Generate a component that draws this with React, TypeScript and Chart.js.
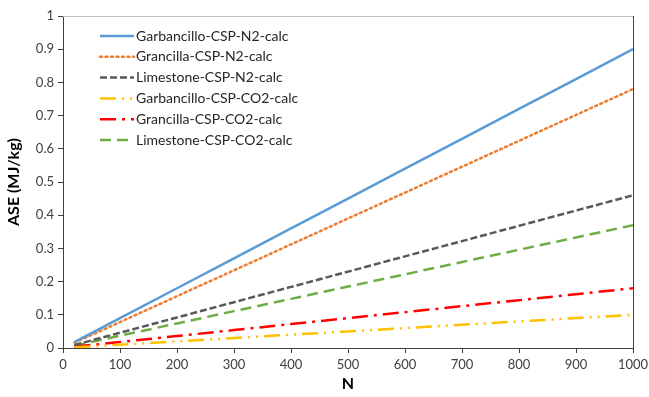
import React, { useEffect, useRef } from "react";
import { Chart, registerables } from "chart.js";
Chart.register(...registerables);

const nValues = [20, 100, 200, 300, 400, 500, 600, 700, 800, 900, 1000];
const garbancilloN2 = [0.018, 0.09, 0.18, 0.27, 0.36, 0.45, 0.54, 0.63, 0.72, 0.81, 0.9];
const grancillaN2 = [0.016, 0.078, 0.156, 0.234, 0.312, 0.39, 0.468, 0.546, 0.624, 0.702, 0.78];
const limestoneN2 = [0.009, 0.046, 0.092, 0.138, 0.184, 0.23, 0.276, 0.322, 0.368, 0.414, 0.46];
const garbancilloCO2 = [0.002, 0.01, 0.02, 0.03, 0.04, 0.05, 0.06, 0.07, 0.08, 0.09, 0.1];
const grancillaCO2 = [0.004, 0.018, 0.036, 0.054, 0.072, 0.09, 0.108, 0.126, 0.144, 0.162, 0.18];
const limestoneCO2 = [0.007, 0.037, 0.074, 0.111, 0.148, 0.185, 0.222, 0.259, 0.296, 0.333, 0.37];

const seriesNames = [
  "Garbancillo-CSP-N2-calc",
  "Grancilla-CSP-N2-calc",
  "Limestone-CSP-N2-calc",
  "Garbancillo-CSP-CO2-calc",
  "Grancilla-CSP-CO2-calc",
  "Limestone-CSP-CO2-calc",
];
const seriesValues = [garbancilloN2, grancillaN2, limestoneN2, garbancilloCO2, grancillaCO2, limestoneCO2];
const seriesColors = ["#5B9BD5", "#ED7D31", "#595959", "#FFC000", "#FF0000", "#70AD47"];
const seriesDashes = [[], [2, 3.5], [7, 3], [16, 6, 2, 6, 2, 6], [16, 6, 3, 6], [11, 6]];
const seriesCaps: CanvasLineCap[] = ["butt", "round", "butt", "butt", "butt", "butt"];

const FONT = "Lato, 'Liberation Sans', sans-serif";

const framePlugin = {
  id: "frame",
  afterDraw(chart: any) {
    const { ctx, chartArea } = chart;
    const { left, right, top, bottom } = chartArea;
    ctx.save();
    ctx.lineWidth = 1;
    ctx.strokeStyle = "#bfbfbf";
    ctx.beginPath();
    ctx.moveTo(left, top + 0.5);
    ctx.lineTo(right, top + 0.5);
    ctx.stroke();
    ctx.strokeStyle = "#404040";
    ctx.beginPath();
    ctx.moveTo(Math.round(right) + 0.5, top);
    ctx.lineTo(Math.round(right) + 0.5, bottom);
    ctx.stroke();
    // legend
    const x0 = left + 37;
    const y0 = top + 20;
    const rowH = 20.8;
    ctx.font = "14px " + FONT;
    ctx.textBaseline = "middle";
    ctx.textAlign = "left";
    seriesNames.forEach((name, i) => {
      const y = y0 + i * rowH;
      ctx.strokeStyle = seriesColors[i];
      ctx.lineWidth = 2.5;
      ctx.lineCap = seriesCaps[i];
      ctx.setLineDash(seriesDashes[i]);
      ctx.beginPath();
      ctx.moveTo(x0, y);
      ctx.lineTo(x0 + 34, y);
      ctx.stroke();
      ctx.setLineDash([]);
      ctx.fillStyle = "#262626";
      ctx.fillText(name, x0 + 36, y);
    });
    ctx.restore();
  },
};

export default function App() {
  const ref = useRef<HTMLCanvasElement | null>(null);
  useEffect(() => {
    document.body.style.margin = "0";
    const chart = new Chart(ref.current!, {
      type: "line",
      data: {
        datasets: seriesNames.map((name, i) => ({
          label: name,
          data: nValues.map((n, j) => ({ x: n, y: seriesValues[i][j] })),
          borderColor: seriesColors[i],
          backgroundColor: seriesColors[i],
          borderWidth: 2.5,
          borderDash: seriesDashes[i],
          borderCapStyle: seriesCaps[i],
          pointRadius: 0,
          tension: 0,
          fill: false,
        })),
      },
      options: {
        animation: false,
        responsive: false,
        maintainAspectRatio: false,
        layout: { padding: { left: 0, right: 16, top: 16, bottom: 0 } },
        plugins: { legend: { display: false }, tooltip: { enabled: false } },
        scales: {
          x: {
            type: "linear",
            min: 0,
            max: 1000,
            ticks: {
              stepSize: 100, color: "#404040", font: { family: FONT, size: 13 }, padding: 4, maxRotation: 0,
              callback: (v: any) => String(v),
            },
            grid: { display: true, drawOnChartArea: false, drawTicks: true, tickLength: 5, color: "#404040" },
            border: { display: true, color: "#404040", width: 1 },
            title: { display: true, text: "N", color: "#000", font: { family: FONT, size: 16, weight: "bold" }, padding: { top: 7 } },
            afterFit: (s: any) => { s.height = 49; s.paddingRight = 0; s.paddingLeft = 0; },
          },
          y: {
            min: 0,
            max: 1,
            ticks: {
              stepSize: 0.1, color: "#404040", font: { family: FONT, size: 13 }, padding: 4,
              callback: (v: any) => String(Math.round(v * 10) / 10),
            },
            grid: { display: true, drawOnChartArea: false, drawTicks: true, tickLength: 5, color: "#404040" },
            border: { display: true, color: "#404040", width: 1 },
            title: { display: true, text: "ASE (MJ/kg)", color: "#000", font: { family: FONT, size: 16, weight: "bold" }, padding: { bottom: 4 } },
            afterFit: (s: any) => { s.width = 63; s.paddingTop = 0; s.paddingBottom = 0; },
          },
        },
      },
      plugins: [framePlugin],
    } as any);
    return () => chart.destroy();
  }, []);
  return (
    <div style={{ width: 649, height: 397 }}>
      <canvas ref={ref} width={649} height={397} style={{ display: "block" }} />
    </div>
  );
}
